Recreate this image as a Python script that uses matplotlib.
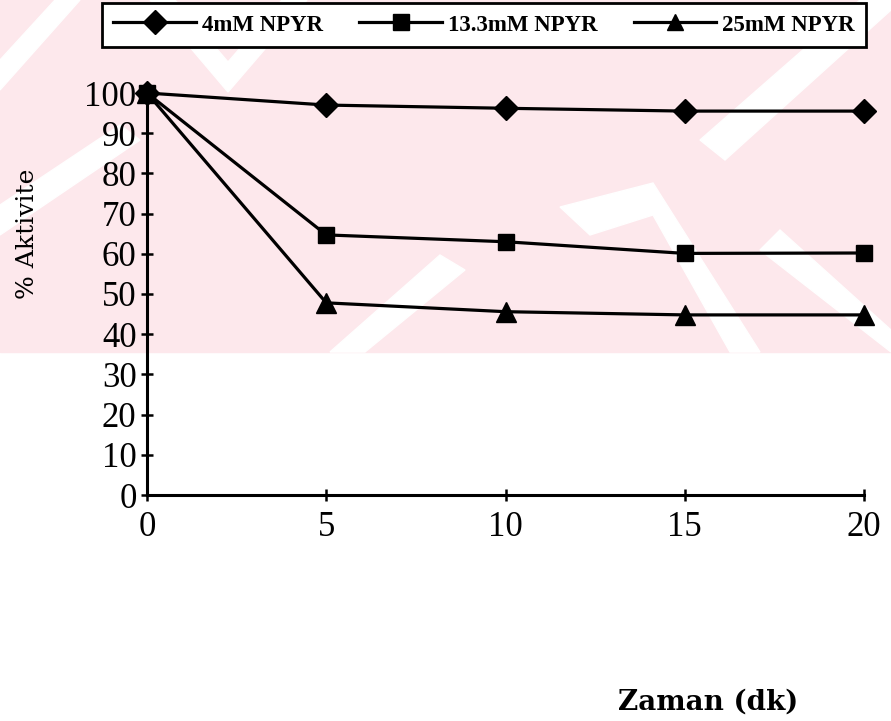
import matplotlib
matplotlib.use("Agg")
import matplotlib.pyplot as plt
from matplotlib.patches import Rectangle, Polygon

# data
time_min = [0, 5, 10, 15, 20]
npyr_4 = [100, 97.0, 96.2, 95.5, 95.5]
npyr_13 = [100, 64.7, 63.0, 60.1, 60.2]
npyr_25 = [100, 47.8, 45.6, 44.8, 44.8]
labels = ["4mM NPYR", "13.3mM NPYR", "25mM NPYR"]

W, H = 891, 721
fig = plt.figure(figsize=(W / 100, H / 100), dpi=100)


def px(x, y):
    # image pixel (origin top-left) -> figure fraction
    return (x / W, 1 - y / H)


# faint pink watermark behind the chart
fig.patches.append(Rectangle(px(0, 352), 1, 352 / H, transform=fig.transFigure,
                             color="#fde8ec", zorder=-2))
stripes = [
    [(150, 0), (175, 0), (228, 62), (282, 0), (307, 0), (228, 92)],
    [(0, 205), (120, 125), (140, 140), (0, 235)],
    [(0, 60), (55, 0), (80, 0), (0, 90)],
    [(560, 207), (653, 183), (760, 352), (730, 352), (653, 215), (590, 235)],
    [(700, 140), (860, 0), (891, 0), (891, 10), (725, 160)],
    [(330, 352), (440, 255), (465, 270), (365, 352)],
    [(780, 230), (891, 330), (891, 352), (760, 250)],
]
for s in stripes:
    fig.patches.append(Polygon([px(x, y) for x, y in s], closed=True,
                               transform=fig.transFigure, color="white", zorder=-1))

ax = fig.add_axes([147 / W, 1 - 495 / H, (864 - 147) / W, (495 - 93) / H])
ax.patch.set_alpha(0)

line_kw = dict(color="black", lw=2.3, clip_on=False, zorder=3)
ax.plot(time_min, npyr_4, marker="D", ms=12, label=labels[0], **line_kw)
ax.plot(time_min, npyr_13, marker="s", ms=12, label=labels[1], **line_kw)
ax.plot(time_min, npyr_25, marker="^", ms=14, label=labels[2], **line_kw)

ax.set_xlim(0, 20)
ax.set_ylim(0, 100)
ax.set_xticks(range(0, 21, 5))
ax.set_yticks(range(0, 101, 10))
for side in ["top", "right"]:
    ax.spines[side].set_visible(False)
for side in ["left", "bottom"]:
    ax.spines[side].set_linewidth(2.2)
ax.tick_params(direction="inout", length=9, width=1.8)
ax.tick_params(axis="y", pad=3)
ax.tick_params(axis="x", pad=7)
for t in ax.get_xticklabels() + ax.get_yticklabels():
    t.set_fontfamily("Liberation Serif")
    t.set_fontsize(25)

leg = fig.legend(loc="center", bbox_to_anchor=(px(484, 25)), ncol=3,
                 prop={"family": "Liberation Serif", "weight": "bold", "size": 16.5},
                 handlelength=3.6, columnspacing=1.6, handletextpad=0.25,
                 fancybox=False, edgecolor="black", framealpha=1,
                 borderpad=0.5, borderaxespad=0)
leg.get_frame().set_linewidth(2)
for h in leg.legend_handles:
    h.set_markersize(12)

fig.text(*px(27, 234), "% Aktivite", rotation=90, ha="center", va="center",
         family="DejaVu Serif", fontsize=18)
fig.text(*px(708, 702), "Zaman (dk)", ha="center", va="center",
         family="DejaVu Serif", fontweight="bold", fontsize=20)

fig.savefig("out.png", dpi=100)
